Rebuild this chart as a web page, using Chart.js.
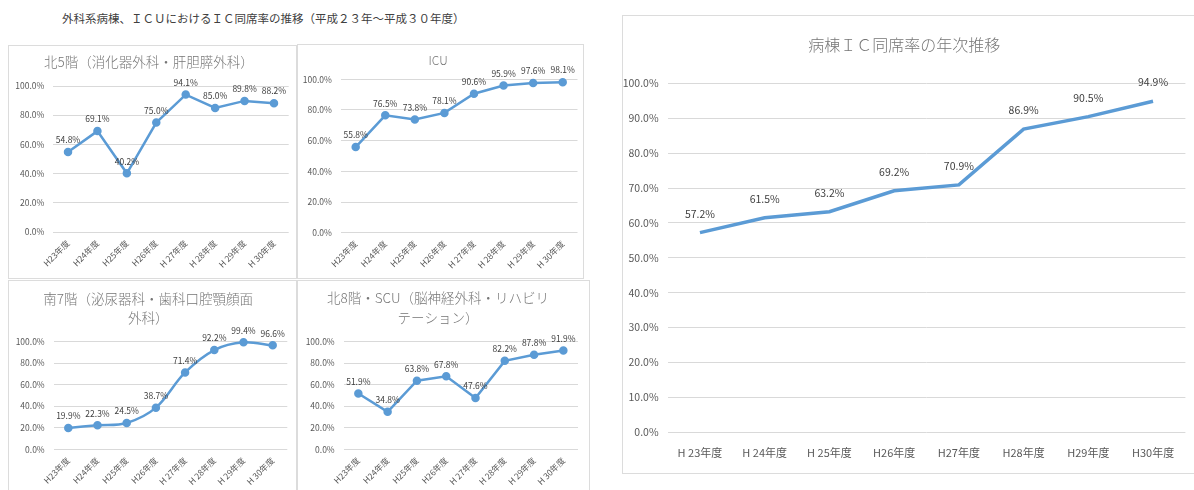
<!DOCTYPE html>
<html>
<head>
<meta charset="utf-8">
<script src="https://cdn.jsdelivr.net/npm/chart.js@4"></script>
<style>
  body { margin: 0; background: #fff; width: 1194px; height: 490px; overflow: hidden; position: relative; font-family: "Noto Sans CJK JP", sans-serif; }
  .pane { position: absolute; border: 1px solid #dcdcdc; background: #fff; }
  .pane canvas { display: block; }
  #head { position: absolute; left: 62px; top: 10px; font-size: 11.5px; color: #404040; white-space: nowrap; }
</style>
</head>
<body>
<div id="head">外科系病棟、ＩＣＵにおけるＩＣ同席率の推移（平成２３年～平成３０年度）</div>
<div class="pane" style="left:8px;top:45px;"><canvas id="c1" width="287" height="232"></canvas></div>
<div class="pane" style="left:297px;top:44px;"><canvas id="c2" width="285" height="233"></canvas></div>
<div class="pane" style="left:8px;top:280px;"><canvas id="c3" width="287" height="214"></canvas></div>
<div class="pane" style="left:297px;top:280px;"><canvas id="c4" width="291" height="214"></canvas></div>
<div class="pane" style="left:622px;top:15px;"><canvas id="c5" width="574" height="457"></canvas></div>
<script>
// categories
var yearsSmall = ['H23年度', 'H24年度', 'H25年度', 'H26年度', 'H 27年度', 'H 28年度', 'H 29年度', 'H 30年度'];
var yearsBig = ['H 23年度', 'H 24年度', 'H 25年度', 'H26年度', 'H27年度', 'H28年度', 'H29年度', 'H30年度'];

// 同席率 (%)
var kita5 = [54.8, 69.1, 40.2, 75.0, 94.1, 85.0, 89.8, 88.2];
var icu = [55.8, 76.5, 73.8, 78.1, 90.6, 95.9, 97.6, 98.1];
var minami7 = [19.9, 22.3, 24.5, 38.7, 71.4, 92.2, 99.4, 96.6];
var kita8 = [51.9, 34.8, 63.8, 67.8, 47.6, 82.2, 87.8, 91.9];
var total = [57.2, 61.5, 63.2, 69.2, 70.9, 86.9, 90.5, 94.9];

var BLUE = '#5B9BD5';
var FONT = '"Noto Sans CJK JP", "Noto Sans", sans-serif';

// values drawn above each point
var pointLabels = {
    id: 'pointLabels',
    afterDatasetsDraw: function (chart, args, opts) {
        var ctx = chart.ctx;
        var meta = chart.getDatasetMeta(0);
        var vals = chart.data.datasets[0].data;
        ctx.save();
        ctx.font = opts.size + 'px ' + FONT;
        ctx.fillStyle = '#404040';
        ctx.textAlign = 'center';
        ctx.textBaseline = 'middle';
        meta.data.forEach(function (pt, i) {
            ctx.fillText(vals[i].toFixed(1) + '%', pt.x, pt.y - opts.offset);
        });
        ctx.restore();
    }
};

function lineChart(id, labels, values, o) {
    return new Chart(document.getElementById(id), {
        type: 'line',
        data: {
            labels: labels,
            datasets: [{
                data: values,
                borderColor: BLUE,
                backgroundColor: BLUE,
                borderWidth: o.lineWidth,
                pointRadius: o.pointRadius,
                pointHoverRadius: o.pointRadius,
                tension: o.tension || 0,
                clip: false
            }]
        },
        options: {
            responsive: false,
            animation: false,
            events: [],
            layout: { padding: { left: 0, right: o.padRight, top: 0, bottom: 0 } },
            plugins: {
                legend: { display: false },
                tooltip: { enabled: false },
                title: {
                    display: true,
                    text: o.title,
                    color: '#767676',
                    font: { family: FONT, size: o.titleSize, weight: '300', lineHeight: o.titleLH },
                    padding: { top: o.titleTop, bottom: o.titleBottom }
                },
                pointLabels: { size: o.labelSize, offset: o.labelOffset }
            },
            scales: {
                x: {
                    offset: true,
                    grid: { display: false, drawTicks: false },
                    border: { display: false },
                    ticks: {
                        color: '#595959',
                        font: { family: FONT, size: o.xSize },
                        minRotation: o.rot,
                        maxRotation: o.rot,
                        padding: o.xPad,
                        autoSkip: false
                    },
                    afterFit: function (s) { s.height = o.xHeight; }
                },
                y: {
                    min: 0,
                    max: 100,
                    grid: { color: '#d9d9d9', drawTicks: false },
                    border: { display: false },
                    ticks: {
                        stepSize: o.step,
                        color: '#595959',
                        font: { family: FONT, size: o.ySize },
                        padding: o.yPad,
                        callback: function (v) { return v.toFixed(1) + '%'; }
                    },
                    afterFit: function (s) { s.width = o.yWidth; }
                }
            }
        },
        plugins: [pointLabels]
    });
}

var small = { lineWidth: 2.5, pointRadius: 3, step: 20, xSize: 8.5, ySize: 8.5, rot: 45, xPad: 6, yPad: 9, labelSize: 8.5, labelOffset: 12 };

lineChart('c1', yearsSmall, kita5, Object.assign({}, small, {
    title: '北5階（消化器外科・肝胆膵外科）', titleSize: 13.5, titleLH: 1.2, titleTop: 7.9, titleBottom: 15.9,
    yWidth: 44.3, padRight: 7.3, xHeight: 46
}));

lineChart('c2', yearsSmall, icu, Object.assign({}, small, {
    title: 'ICU', titleSize: 12, titleLH: 1.2, titleTop: 7.8, titleBottom: 12.1,
    yWidth: 42.9, padRight: 4.8, xHeight: 45.3
}));

lineChart('c3', yearsSmall, minami7, Object.assign({}, small, {
    title: ['南7階（泌尿器科・歯科口腔顎顔面', '外科）'], titleSize: 13.5, titleLH: 1.385, titleTop: 8.65, titleBottom: 14.65,
    yWidth: 44.7, padRight: 8.7, xHeight: 45.7, tension: 0.35
}));

lineChart('c4', yearsSmall, kita8, Object.assign({}, small, {
    title: ['北8階・SCU（脳神経外科・リハビリ', 'テーション）'], titleSize: 13.5, titleLH: 1.526, titleTop: 6.4, titleBottom: 13.1,
    yWidth: 45.7, padRight: 11, xHeight: 45.7
}));

lineChart('c5', yearsBig, total, {
    lineWidth: 3.5, pointRadius: 0, step: 10, xSize: 11, ySize: 10.5, rot: 0, xPad: 14, yPad: 9,
    labelSize: 10.5, labelOffset: 19,
    title: '病棟ＩＣ同席率の年次推移', titleSize: 16, titleLH: 1.2, titleTop: 19.4, titleBottom: 28.9,
    yWidth: 44.6, padRight: 11.6, xHeight: 41
});
</script>
</body>
</html>
